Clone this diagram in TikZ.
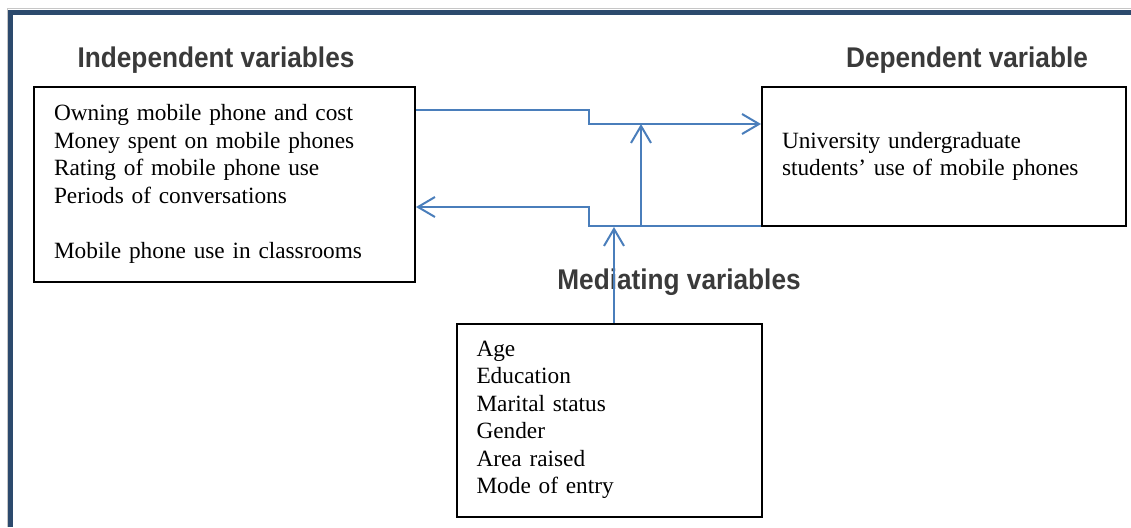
\documentclass[tikz,border=0pt]{standalone}
\usepackage{fontspec}
\setmainfont{Liberation Serif}
\newfontfamily\headfont[FakeStretch=0.92]{Liberation Sans}
\usetikzlibrary{arrows.meta}
\usetikzlibrary{calc}
\definecolor{framecol}{HTML}{2C4A6D}
\definecolor{linkcol}{HTML}{4A7EBB}
\definecolor{headcol}{HTML}{3A3A3A}
\tikzstyle{varbox}=[
        draw,
        line width=2pt,
        anchor=north west,
        align=left,
        inner xsep=20pt,
        font=\fontsize{23.3}{27.5}\selectfont
]
\tikzstyle{heading}=[anchor=base,text=headcol,font=\headfont\bfseries\fontsize{28.5}{32}\selectfont]
\tikzstyle{flow}=[-{Straight Barb[length=17pt,width=20pt,line width=2pt]},linkcol,line width=2pt]

\begin{document}
\begin{tikzpicture}[x=1pt,y=-1pt]
\useasboundingbox (0,0) rectangle (1131,527);
% frame
\draw[gray!45,line width=1pt] (7,527) -- (7,9) -- (1131,9);
\draw[framecol,line width=5.5pt] (10.5,527) -- (10.5,12.5) -- (1131,12.5);
% headings
\node[heading] (indephead) at (216,67) {Independent variables};
\node[heading] (dephead) at (967,67) {Dependent variable};
\node[heading] (medhead) at (679,289) {Mediating variables};
% boxes
\node[varbox,minimum width=381,minimum height=195,text width=341] (indep) at (33,85.5)
  {Owning mobile phone and cost\\Money spent on mobile phones\\Rating of mobile phone use\\Periods of conversations\\[27.5pt]Mobile phone use in classrooms};
\node[varbox,minimum width=364,minimum height=139,text width=324] (dep) at (761,86)
  {University undergraduate\\students’ use of mobile phones};
\node[varbox,minimum width=305,minimum height=193,text width=265] (med) at (455.5,322.5)
  {Age\\Education\\Marital status\\Gender\\Area raised\\Mode of entry};
\coordinate (jointop) at (641,124);
\coordinate (joinlow) at (641,226);
\coordinate (medin) at (614,227);
%Drawing Edges
\draw[flow] (indep.east |- 0,110) -| (589,124) -- (dep.west |- jointop);
\draw[flow] (dep.west |- joinlow) -- (589,226) |- (indep.east |- 0,207);
\draw[flow] (joinlow) -- (jointop);
\draw[flow] (med.north -| medin) -- (medin);
\end{tikzpicture}
\end{document}
